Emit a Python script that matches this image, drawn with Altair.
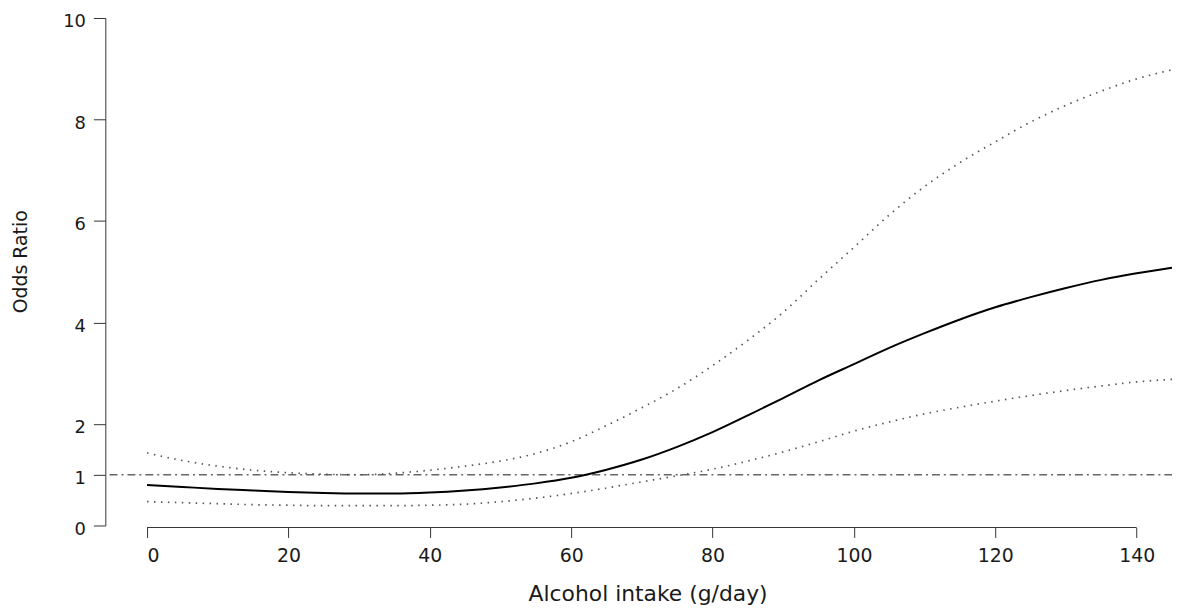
import altair as alt
import pandas as pd

# ---- data ----
intake = [0, 5, 10, 15, 20, 25, 30, 35, 40, 45, 50, 55, 60, 65, 70, 75,
          80, 85, 90, 95, 100, 105, 110, 115, 120, 125, 130, 135, 140, 145]
odds_ratio = [0.80, 0.76, 0.72, 0.69, 0.66, 0.64, 0.63, 0.63, 0.65, 0.69,
              0.75, 0.83, 0.94, 1.10, 1.30, 1.55, 1.84, 2.17, 2.51, 2.86,
              3.18, 3.50, 3.79, 4.06, 4.30, 4.50, 4.68, 4.84, 4.97, 5.08]
ci_upper = [1.43, 1.28, 1.17, 1.09, 1.04, 1.01, 1.00, 1.03, 1.09, 1.17,
            1.27, 1.42, 1.65, 1.97, 2.32, 2.70, 3.15, 3.65, 4.20, 4.85,
            5.48, 6.12, 6.68, 7.15, 7.56, 7.95, 8.28, 8.56, 8.80, 8.98]
ci_lower = [0.47, 0.45, 0.43, 0.41, 0.40, 0.39, 0.39, 0.39, 0.40, 0.42,
            0.47, 0.54, 0.63, 0.74, 0.86, 0.98, 1.11, 1.27, 1.45, 1.65,
            1.86, 2.04, 2.20, 2.33, 2.45, 2.56, 2.66, 2.75, 2.83, 2.88]
x_ticks = [0, 20, 40, 60, 80, 100, 120, 140]
y_ticks = [0, 1, 2, 4, 6, 8, 10]
reference_or = 1.0
reference_start = -5.3
x_domain = [0, 145]
y_domain = [0, 10]

df = pd.DataFrame({"intake": intake, "or": odds_ratio,
                   "upper": ci_upper, "lower": ci_lower})
ref_df = pd.DataFrame({"start": [reference_start], "end": [x_domain[1]],
                       "or": [reference_or]})
xline_df = pd.DataFrame({"start": [x_ticks[0]], "end": [x_ticks[-1]]})

W, H = 1032, 511
FONT = "DejaVu Sans"
AX = "#333333"
TXT = "#1a1a1a"

xscale = alt.Scale(domain=x_domain, nice=False, zero=False)
yscale = alt.Scale(domain=y_domain, nice=False)

x_axis = alt.Axis(values=x_ticks, domain=False, grid=False, offset=2,
                  tickSize=10, tickColor=AX, tickWidth=1,
                  labelPadding=9, labelFont=FONT, labelFontSize=19,
                  labelColor=TXT,
                  title="Alcohol intake  (g/day)", titleFont=FONT,
                  titleFontSize=22, titleFontWeight="normal",
                  titleColor=TXT, titleX=504, titleY=74,
                  titleBaseline="alphabetic")
y_axis = alt.Axis(values=y_ticks, grid=False, offset=42, domainColor=AX,
                  tickSize=12, tickColor=AX, tickWidth=1,
                  labelPadding=8, labelFont=FONT, labelFontSize=18,
                  labelColor=TXT, labelOffset=4,
                  title="Odds Ratio", titleFont=FONT, titleFontSize=19,
                  titleFontWeight="normal", titleColor=TXT,
                  titleX=-85, titleY=245, titleBaseline="middle")


def X(field):
    return alt.X(f"{field}:Q", scale=xscale, axis=x_axis)


def Y(field):
    return alt.Y(f"{field}:Q", scale=yscale, axis=y_axis)


ref = alt.Chart(ref_df).mark_rule(
    color="#666666", strokeWidth=1.3, strokeDash=[8, 4, 2, 4]
).encode(x=X("start"), x2="end:Q", y=Y("or"))

base = alt.Chart(df)
dotted = dict(color="#555555", strokeWidth=1.7, strokeDash=[1.5, 5.5],
              interpolate="monotone")
lower = base.mark_line(**dotted).encode(x=X("intake"), y=Y("lower"))
upper = base.mark_line(**dotted).encode(x=X("intake"), y=Y("upper"))
main = base.mark_line(color="black", strokeWidth=2,
                      interpolate="monotone").encode(x=X("intake"), y=Y("or"))

xline = alt.Chart(xline_df).mark_rule(color=AX, strokeWidth=1).encode(
    x=X("start"), x2="end:Q", y=alt.value(H + 2))

chart = alt.layer(ref, lower, upper, main, xline).properties(
    width=W, height=H,
    autosize=alt.AutoSizeParams(type="none"),
    padding={"left": 140, "top": 8, "right": 0, "bottom": 80},
).configure(background="white").configure_view(stroke=None)

chart.save("out.html", embed_options={"renderer": "svg", "actions": False})
